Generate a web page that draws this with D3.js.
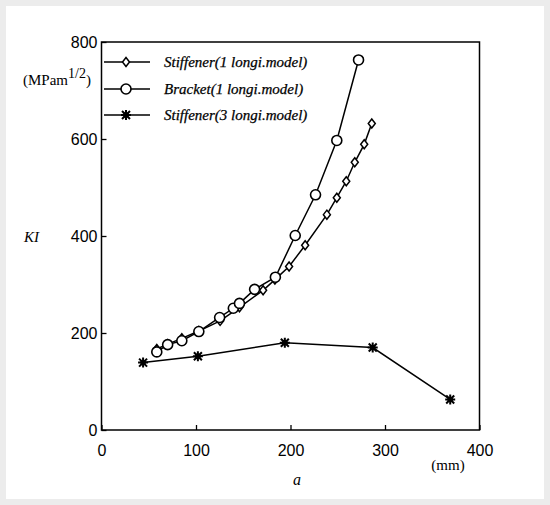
<!DOCTYPE html>
<html><head><meta charset="utf-8">
<script src="https://cdn.jsdelivr.net/npm/d3@7"></script>
<style>body{margin:0;background:#fff}svg{display:block}</style>
</head><body>
<script>
// Data
const xTicks = [0, 100, 200, 300, 400];
const yTicks = [0, 200, 400, 600, 800];
const seriesNames = ["Stiffener(1 longi.model)", "Bracket(1 longi.model)", "Stiffener(3 longi.model)"];
const stiff1A = [58.5, 70, 85, 103, 125.5, 146, 171, 183.5, 198.5, 215.5, 238.5, 249, 259, 268, 278, 286];
const stiff1K = [167, 177, 189, 204, 225, 253, 288, 310, 337, 381, 444, 479, 513, 552, 589, 632];
const brackA = [58.5, 70, 85, 103, 125, 139.5, 146, 162, 184, 205, 226.5, 249, 272];
const brackK = [161, 176, 184, 203, 232, 251, 261, 290, 315, 401, 485, 597, 763];
const stiff3A = [44, 102, 194, 287, 369];
const stiff3K = [139, 152, 180, 170, 63];

const W = 550, H = 505;
const svg = d3.select("body").append("svg").attr("width", W).attr("height", H);

// light gray page border
svg.append("rect").attr("x", 0).attr("y", 0).attr("width", W).attr("height", H).attr("fill", "#ececec");
svg.append("rect").attr("x", 6).attr("y", 6).attr("width", W - 12).attr("height", H - 12).attr("fill", "#fff");

const L = 101.5, R = 479.5, T = 42, B = 430;
const x = d3.scaleLinear().domain([0, 400]).range([L, R]);
const y = d3.scaleLinear().domain([0, 800]).range([B, T]);

// frame
svg.append("rect").attr("x", L).attr("y", T).attr("width", R - L).attr("height", B - T)
  .attr("fill", "none").attr("stroke", "#000").attr("stroke-width", 1.5);

const tickFont = "'Liberation Sans', Arial, sans-serif";
const serif = "'Liberation Serif', 'Times New Roman', serif";

// axes with inward ticks
const xAxis = svg.append("g").attr("transform", `translate(0,${B})`)
  .call(d3.axisBottom(x).tickValues(xTicks).tickSize(-5).tickPadding(15).tickFormat(d3.format("d")));
const yAxis = svg.append("g").attr("transform", `translate(${L},0)`)
  .call(d3.axisLeft(y).tickValues(yTicks).tickSize(-5).tickPadding(4).tickFormat(d3.format("d")));
[xAxis, yAxis].forEach(g => {
  g.select(".domain").remove();
  g.selectAll("line").attr("stroke", "#000").attr("stroke-width", 1.3);
  g.selectAll("text").attr("font-family", tickFont).attr("font-size", 16).attr("fill", "#000");
});

// labels
svg.append("text").attr("x", 23).attr("y", 85).attr("font-family", serif).attr("font-size", 15)
  .html('(MPam<tspan dy="-7" font-size="14">1/2</tspan><tspan dy="7">)</tspan>');
svg.append("text").attr("x", 24).attr("y", 242).attr("font-family", serif).attr("font-style", "italic")
  .attr("font-size", 15).text("KI");
svg.append("text").attr("x", 297).attr("y", 485).attr("text-anchor", "middle").attr("font-family", serif)
  .attr("font-style", "italic").attr("font-size", 16).text("a");
svg.append("text").attr("x", 448).attr("y", 470).attr("text-anchor", "middle").attr("font-family", serif)
  .attr("font-size", 15).text("(mm)");

// marker drawers
function diamond(g, cx, cy) {
  g.append("path").attr("d", `M${cx},${cy-4.5}L${cx+3.5},${cy}L${cx},${cy+4.5}L${cx-3.5},${cy}Z`)
    .attr("fill", "#fff").attr("stroke", "#000").attr("stroke-width", 1.5);
}
function circle(g, cx, cy) {
  g.append("circle").attr("cx", cx).attr("cy", cy).attr("r", 5)
    .attr("fill", "#fff").attr("stroke", "#000").attr("stroke-width", 1.6);
}
function star(g, cx, cy) {
  const s = 4;
  g.append("path").attr("d",
    `M${cx-s},${cy-s}L${cx+s},${cy+s}M${cx-s},${cy+s}L${cx+s},${cy-s}M${cx},${cy-s-1}L${cx},${cy+s+1}M${cx-s-1},${cy}L${cx+s+1},${cy}`)
    .attr("stroke", "#000").attr("stroke-width", 2);
  g.append("rect").attr("x", cx - 2.5).attr("y", cy - 2.5).attr("width", 5).attr("height", 5).attr("fill", "#000");
}

const series = [
  {a: stiff1A, k: stiff1K, m: diamond},
  {a: brackA, k: brackK, m: circle},
  {a: stiff3A, k: stiff3K, m: star}
];
const line = d3.line().x(d => x(d[0])).y(d => y(d[1]));

series.forEach(s => {
  const pts = s.a.map((a, i) => [a, s.k[i]]);
  svg.append("path").attr("d", line(pts)).attr("fill", "none").attr("stroke", "#000").attr("stroke-width", 1.5);
});
series.forEach(s => {
  const g = svg.append("g");
  s.a.forEach((a, i) => s.m(g, x(a), y(s.k[i])));
});

// legend
const legY = [62, 89, 115];
series.forEach((s, i) => {
  const g = svg.append("g");
  g.append("line").attr("x1", 104).attr("x2", 150).attr("y1", legY[i]).attr("y2", legY[i])
    .attr("stroke", "#000").attr("stroke-width", 1.3);
  s.m(g, 126, legY[i]);
  g.append("text").attr("x", 164).attr("y", legY[i] + 5).attr("font-family", serif)
    .attr("font-style", "italic").attr("font-size", 15).attr("stroke", "#000").attr("stroke-width", 0.25)
    .text(seriesNames[i]);
});
</script>
</body></html>
